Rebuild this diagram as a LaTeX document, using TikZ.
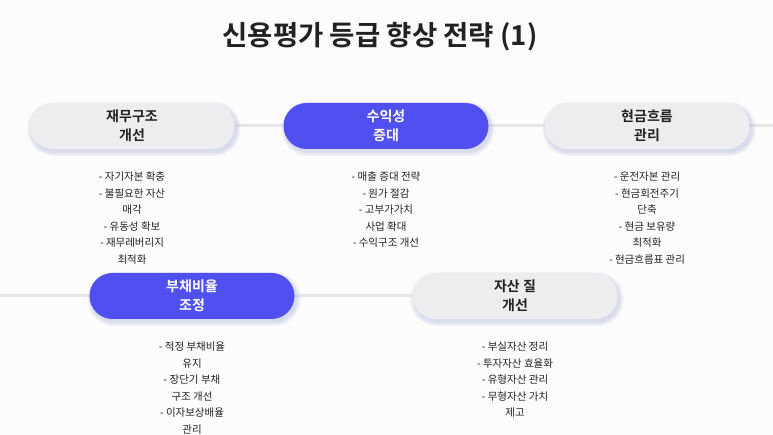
\documentclass[tikz,border=0pt]{standalone}
\usepackage{fontspec}
\setmainfont{Noto Sans CJK KR}[BoldFont={Noto Sans CJK KR Bold}]
\usetikzlibrary{backgrounds}
\definecolor{bgc}{RGB}{252,252,253}
\definecolor{boxg}{RGB}{237,237,240}
\definecolor{boxb}{RGB}{80,80,240}
\definecolor{shc}{RGB}{170,176,215}
\definecolor{linec}{RGB}{229,229,232}
\definecolor{txt}{RGB}{34,34,34}
\tikzset{
  gbox/.style={rectangle, rounded corners=23pt, minimum width=205pt, minimum height=46pt,
    fill=boxg, text=txt, font=\bfseries\fontsize{14}{18.5}\selectfont, align=center, inner sep=0pt},
  bbox/.style={gbox, fill=boxb, text=white},
  listtxt/.style={font=\fontsize{10.5}{16.5}\selectfont, align=center, text=txt, inner sep=0pt, anchor=north},
  conn/.style={draw=linec, line width=3pt},
  titletxt/.style={font=\bfseries\fontsize{27.5}{32}\selectfont, text=txt, inner sep=0pt}
}
\begin{document}
\begin{tikzpicture}[x=1pt,y=1pt]
\useasboundingbox (0,0) rectangle (773,435);
\node[titletxt] (T) at (380,398) {신용평가 등급 향상 전략 (1)};

\node[gbox] (A) at (132,309) {재무구조\\개선};
\node[bbox] (B) at (386,309) {수익성\\증대};
\node[gbox] (C) at (647,309) {현금흐름\\관리};
\node[bbox] (D) at (192,139) {부채비율\\조정};
\node[gbox] (E) at (515,139) {자산 질\\개선};

\node[listtxt] (a) at (132,263) {- 자기자본 확충\\- 불필요한 자산\\매각\\- 유동성 확보\\- 재무레버리지\\최적화};
\node[listtxt] (b) at (386,263) {- 매출 증대 전략\\- 원가 절감\\- 고부가가치\\사업 확대\\- 수익구조 개선};
\node[listtxt] (c) at (647,263) {- 운전자본 관리\\- 현금회전주기\\단축\\- 현금 보유량\\최적화\\- 현금흐름표 관리};
\node[listtxt] (d) at (192,93) {- 적정 부채비율\\유지\\- 장단기 부채\\구조 개선\\- 이자보상배율\\관리};
\node[listtxt] (e) at (515,93) {- 부실자산 정리\\- 투자자산 효율화\\- 유형자산 관리\\- 무형자산 가치\\제고};

\coordinate (r) at (773,309);
\coordinate (l) at (0,139);

\begin{pgfonlayer}{background}
\fill[bgc] (0,0) rectangle (773,435);
\draw[conn] (A.east) -- (r);
\draw[conn] (l) -- (E.west);
\foreach \n in {A,B,C,D,E}{
  \foreach \k in {0,1,2,3,4}{
    \pgfmathsetmacro\rr{23+\k}
    \fill[shc, opacity=0.1, rounded corners=\rr pt]
      ([shift={(2-\k,-3-\k)}]\n.south west) rectangle ([shift={(2+\k,-3+\k)}]\n.north east);
  }
}
\end{pgfonlayer}
\end{tikzpicture}
\end{document}
